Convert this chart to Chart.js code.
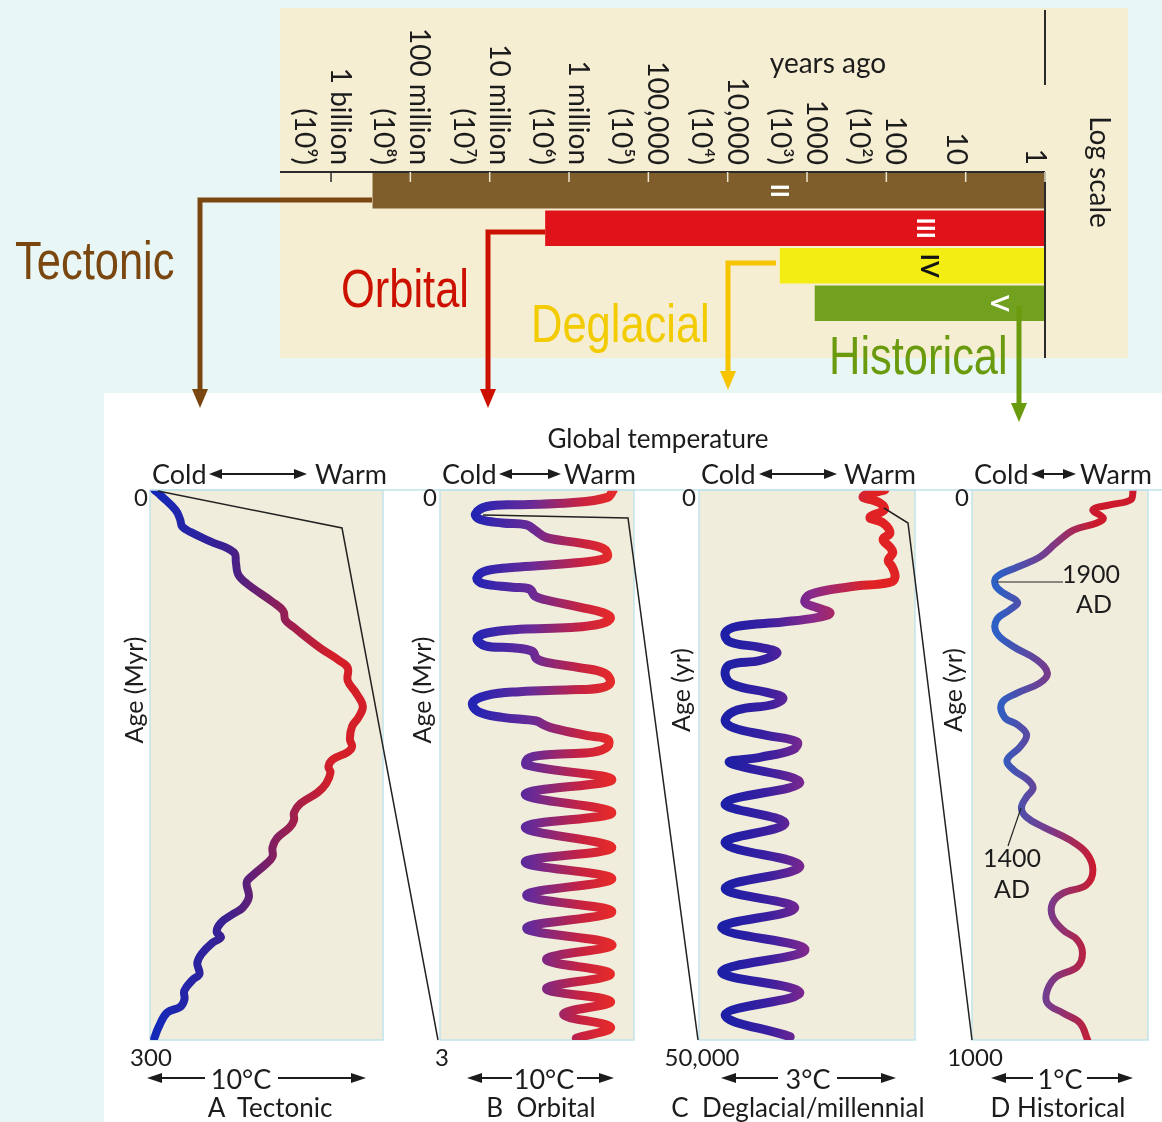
<!DOCTYPE html>
<html>
<head>
<meta charset="utf-8">
<title>Climate change at different time scales</title>
<script src="https://cdn.jsdelivr.net/npm/chart.js@4.4.1/dist/chart.umd.min.js"></script>
<style>
  body { margin: 0; }
  #page { position: relative; width: 1162px; height: 1122px; background: #e8f6f6; overflow: hidden;
          font-family: Lato, "Open Sans", sans-serif; color: #1c1c1c; }
  #page > * { position: absolute; }
  .c, .l, .r, .up, .down { white-space: nowrap; line-height: 1; }
  .c { transform: translate(-50%, -50%); }
  .l { transform: translate(0, -50%); }
  .r { transform: translate(-100%, -50%); }
  .up { transform: translate(-50%, -50%) rotate(-90deg); }
  .down { transform: translate(-50%, -50%) rotate(90deg); }
  .big { font-family: "Liberation Sans", Arial, sans-serif; font-size: 53px; line-height: 1; white-space: nowrap;
         transform: scaleX(0.82); transform-origin: 0 0; }
</style>
</head>
<body>
<div id="page">
  <div style="left:280px;top:8px;width:848px;height:350px;background:#f6eed3"></div>
  <div style="left:104px;top:393px;width:1058px;height:729px;background:#ffffff"></div>

  <canvas id="scale" style="left:280px;top:8px" width="848" height="350"></canvas>
  <canvas id="panelA" style="left:138px;top:478px" width="257" height="574"></canvas>
  <canvas id="panelB" style="left:428px;top:478px" width="218" height="574"></canvas>
  <canvas id="panelC" style="left:687px;top:478px" width="240" height="574"></canvas>
  <canvas id="panelD" style="left:960px;top:478px" width="200" height="574"></canvas>

  <svg style="left:0;top:0" width="1162" height="1122">
    <line x1="150" y1="490" x2="1162" y2="490" stroke="#c2e3ea" stroke-width="1.5"/>
    <!-- colored elbow arrows -->
    <polyline points="372,200 200,200 200,392" fill="none" stroke="#7a4710" stroke-width="5"/>
    <polygon points="192,389 208,389 200,408" fill="#7a4710"/>
    <polyline points="545,232 488,232 488,392" fill="none" stroke="#cc1100" stroke-width="5"/>
    <polygon points="480,389 496,389 488,408" fill="#cc1100"/>
    <polyline points="776,263 728,263 728,374" fill="none" stroke="#f6c500" stroke-width="5"/>
    <polygon points="720,371 736,371 728,390" fill="#f6c500"/>
    <polyline points="1019,306 1019,405" fill="none" stroke="#6a9a0e" stroke-width="5"/>
    <polygon points="1011,403 1027,403 1019,422" fill="#6a9a0e"/>
    <!-- zoom connectors -->
    <g fill="none" stroke="#222" stroke-width="1.5">
      <polyline points="158,491 342,528 438,1040"/>
      <polyline points="483,515 628,518 698,1040"/>
      <polyline points="884,508 908,523 972,1040"/>
      <line x1="997" y1="582" x2="1063" y2="582" stroke-width="1.2"/>
      <line x1="1021" y1="808" x2="1008" y2="846" stroke-width="1.2"/>
    </g>
    <!-- Cold <-> Warm arrows -->
    <g stroke="#1c1c1c" stroke-width="2" fill="#1c1c1c">
      <line x1="214" y1="474" x2="302" y2="474"/>
      <polygon points="209,474 222,469 222,479" stroke="none"/>
      <polygon points="307,474 294,469 294,479" stroke="none"/>
      <line x1="504" y1="474" x2="556" y2="474"/>
      <polygon points="499,474 512,469 512,479" stroke="none"/>
      <polygon points="561,474 548,469 548,479" stroke="none"/>
      <line x1="764" y1="474" x2="832" y2="474"/>
      <polygon points="759,474 772,469 772,479" stroke="none"/>
      <polygon points="837,474 824,469 824,479" stroke="none"/>
      <line x1="1036" y1="474" x2="1071" y2="474"/>
      <polygon points="1031,474 1044,469 1044,479" stroke="none"/>
      <polygon points="1076,474 1063,469 1063,479" stroke="none"/>
      <!-- temperature scale bars -->
      <line x1="152" y1="1078" x2="205" y2="1078"/>
      <polygon points="147,1078 162,1073 162,1083" stroke="none"/>
      <line x1="278" y1="1078" x2="361" y2="1078"/>
      <polygon points="366,1078 351,1073 351,1083" stroke="none"/>
      <line x1="472" y1="1078" x2="512" y2="1078"/>
      <polygon points="467,1078 482,1073 482,1083" stroke="none"/>
      <line x1="577" y1="1078" x2="609" y2="1078"/>
      <polygon points="614,1078 599,1073 599,1083" stroke="none"/>
      <line x1="726" y1="1078" x2="778" y2="1078"/>
      <polygon points="721,1078 736,1073 736,1083" stroke="none"/>
      <line x1="837" y1="1078" x2="891" y2="1078"/>
      <polygon points="896,1078 881,1073 881,1083" stroke="none"/>
      <line x1="996" y1="1078" x2="1033" y2="1078"/>
      <polygon points="991,1078 1006,1073 1006,1083" stroke="none"/>
      <line x1="1087" y1="1078" x2="1128" y2="1078"/>
      <polygon points="1133,1078 1118,1073 1118,1083" stroke="none"/>
    </g>
  </svg>

  <!-- colored time-scale labels -->
  <div class="big" style="left:15px;top:234px;color:#7a4710">Tectonic</div>
  <div class="big" style="left:341px;top:262px;color:#cc1100">Orbital</div>
  <div class="big" style="left:531px;top:297px;color:#f2cb00">Deglacial</div>
  <div class="big" style="left:829px;top:329px;color:#6a9a0e">Historical</div>

  <!-- top panel texts -->
  <div class="c" style="left:828px;top:62px;font-size:28px">years ago</div>
  <div class="down" style="left:1101px;top:172px;font-size:28px">Log scale</div>

  <!-- bottom panel texts -->
  <div class="c" style="left:658px;top:438px;font-size:26px">Global temperature</div>

  <div class="l" style="left:152px;top:473px;font-size:27px">Cold</div>
  <div class="r" style="left:387px;top:473px;font-size:27px">Warm</div>
  <div class="l" style="left:442px;top:473px;font-size:27px">Cold</div>
  <div class="r" style="left:636px;top:473px;font-size:27px">Warm</div>
  <div class="l" style="left:701px;top:473px;font-size:27px">Cold</div>
  <div class="r" style="left:916px;top:473px;font-size:27px">Warm</div>
  <div class="l" style="left:974px;top:473px;font-size:27px">Cold</div>
  <div class="r" style="left:1152px;top:473px;font-size:27px">Warm</div>

  <div class="r" style="left:148px;top:497px;font-size:24px">0</div>
  <div class="r" style="left:437px;top:497px;font-size:24px">0</div>
  <div class="r" style="left:696px;top:497px;font-size:24px">0</div>
  <div class="r" style="left:969px;top:497px;font-size:24px">0</div>

  <div class="c" style="left:151px;top:1057px;font-size:24px">300</div>
  <div class="c" style="left:442px;top:1057px;font-size:24px">3</div>
  <div class="c" style="left:702px;top:1057px;font-size:24px">50,000</div>
  <div class="c" style="left:975px;top:1057px;font-size:24px">1000</div>

  <div class="up" style="left:133px;top:690px;font-size:25px">Age (Myr)</div>
  <div class="up" style="left:421px;top:690px;font-size:25px">Age (Myr)</div>
  <div class="up" style="left:680px;top:690px;font-size:25px">Age (yr)</div>
  <div class="up" style="left:952px;top:690px;font-size:25px">Age (yr)</div>

  <div class="c" style="left:241px;top:1078px;font-size:27px">10°C</div>
  <div class="c" style="left:544px;top:1078px;font-size:27px">10°C</div>
  <div class="c" style="left:808px;top:1078px;font-size:27px">3°C</div>
  <div class="c" style="left:1060px;top:1078px;font-size:27px">1°C</div>

  <div class="c" style="left:270px;top:1107px;font-size:26px">A&nbsp; Tectonic</div>
  <div class="c" style="left:541px;top:1107px;font-size:26px">B&nbsp; Orbital</div>
  <div class="c" style="left:798px;top:1107px;font-size:26px">C&nbsp; Deglacial/millennial</div>
  <div class="c" style="left:1058px;top:1107px;font-size:26px">D Historical</div>

  <div class="l" style="left:1062px;top:573px;font-size:25px">1900</div>
  <div class="c" style="left:1094px;top:603px;font-size:25px">AD</div>
  <div class="c" style="left:1012px;top:857px;font-size:25px">1400</div>
  <div class="c" style="left:1012px;top:888px;font-size:25px">AD</div>
</div>

<script>
// ---- log-scale time spans (years ago) ----
const spanLabels = ['II', 'III', 'IV', 'V'];
const spanStart = [3e8, 2e6, 2200, 800];
const spanEnd = [1, 1, 1, 1];
const numeralAt = [2200, 32, 28, 3.7];
const tickYears = [1e9, 1e8, 1e7, 1e6, 1e5, 1e4, 1e3, 100, 10, 1];
const tickNames = ['1 billion', '100 million', '10 million', '1 million', '100,000', '10,000', '1000', '100', '10', '1'];
const tickPowers = ['(10⁹)', '(10⁸)', '(10⁷)', '(10⁶)', '(10⁵)', '(10⁴)', '(10³)', '(10²)', '', ''];

// ---- A Tectonic: age (Myr), temperature (°C above panel's cold edge) ----
const ageA = [0, 3, 11, 16, 20, 23, 28, 34, 40, 46, 51, 61, 66, 71, 75, 86, 93, 97, 104, 111,
  118, 124, 129, 136, 140, 143, 147, 151, 154, 160, 165, 171, 176, 180, 184, 190, 195, 200, 204, 210,
  214, 222, 228, 231, 236, 241, 244, 247, 253, 258, 264, 267, 273, 278, 282, 285, 293, 299];
const tempA = [0.2, 0.5, 1.2, 1.4, 1.5, 1.9, 2.8, 3.9, 4.0, 4.1, 4.5, 5.7, 6.2, 6.3, 6.7, 7.9, 8.8, 9.2, 9.2, 9.6,
  9.9, 9.7, 9.4, 9.3, 9.4, 9.2, 8.5, 8.3, 8.4, 8.2, 7.8, 7.0, 6.7, 6.7, 6.5, 5.9, 5.7, 5.7, 5.4, 4.8,
  4.5, 4.6, 4.3, 3.9, 3.3, 3.1, 3.3, 2.9, 2.4, 2.2, 2.3, 2.0, 1.6, 1.6, 1.4, 0.8, 0.4, 0.2];

// ---- B Orbital: age (Myr) ----
const ageB = [0, 0.04, 0.07, 0.08, 0.09, 0.13, 0.16, 0.18, 0.19, 0.22, 0.26, 0.29, 0.32, 0.36, 0.38, 0.40, 0.42, 0.44, 0.48, 0.51,
  0.53, 0.54, 0.58, 0.60, 0.64, 0.67, 0.70, 0.73, 0.75, 0.76, 0.78, 0.81, 0.85, 0.86, 0.88, 0.92, 0.94, 0.97, 1.00, 1.05,
  1.08, 1.09, 1.10, 1.12, 1.16, 1.21, 1.24, 1.26, 1.28, 1.30, 1.34, 1.36, 1.40, 1.43, 1.44, 1.46, 1.50, 1.58, 1.66, 1.76,
  1.84, 1.95, 2.03, 2.12, 2.21, 2.30, 2.39, 2.48, 2.56, 2.64, 2.72, 2.79, 2.86, 2.93, 2.99];
const tempB = [12.2, 11.8, 9.2, 5.6, 3.3, 2.5, 2.8, 4.4, 6.1, 6.7, 7.5, 9.9, 11.5, 11.8, 11.3, 9.2, 5.6, 3.3, 2.6, 3.0,
  5.1, 6.3, 6.7, 7.5, 9.9, 11.5, 12.0, 11.3, 9.2, 5.6, 3.3, 2.6, 3.2, 5.1, 6.5, 6.8, 7.5, 9.9, 11.6, 12.0,
  11.3, 9.2, 5.6, 3.3, 2.3, 2.7, 4.4, 6.8, 7.3, 8.0, 10.4, 11.8, 11.8, 10.8, 8.5, 6.3, 6.1, 12.1, 6.0, 12.1,
  6.0, 12.1, 6.0, 12.1, 6.1, 12.1, 6.1, 12.1, 7.5, 12.0, 7.5, 12.0, 8.7, 12.0, 9.6];

// ---- C Deglacial/millennial: age (yr) ----
const ageC = [0, 600, 1200, 1800, 2500, 3000, 3900, 4500, 5200, 5700, 6400, 7000, 7900, 8400, 8800, 9500, 10200, 10700, 11200, 11600,
  12000, 12400, 13000, 13800, 14300, 14800, 15500, 15900, 16800, 17700, 18400, 18900, 19500, 20000, 20900, 21600, 22300, 22900, 23600, 24300,
  24800, 26600, 28500, 30300, 32100, 34200, 36200, 38000, 39800, 41800, 43800, 45700, 47700, 49700];
const tempC = [3.26, 2.88, 3.18, 3.25, 3.00, 3.23, 3.35, 3.23, 3.35, 3.40, 3.32, 3.39, 3.44, 3.35, 2.65, 1.95, 1.86, 2.07, 2.30, 2.07,
  1.47, 0.67, 0.46, 0.54, 1.07, 1.37, 1.07, 0.54, 0.46, 0.60, 1.19, 1.47, 1.30, 0.67, 0.46, 0.60, 1.19, 1.72, 1.65, 1.07,
  0.54, 1.77, 0.46, 1.51, 0.46, 1.77, 0.46, 1.68, 0.40, 1.86, 0.40, 1.77, 0.46, 1.60];

// ---- D Historical: age (yr) ----
const ageD = [0, 18, 27, 36, 51, 60, 73, 96, 122, 140, 158, 173, 187, 204, 218, 236, 260, 285, 309, 333,
  351, 369, 387, 413, 427, 445, 467, 491, 509, 527, 542, 558, 578, 595, 613, 636, 660, 691, 718, 733,
  751, 776, 800, 818, 842, 867, 885, 909, 933, 951, 969, 1000];
const tempD = [1.24, 1.22, 1.06, 0.93, 1.01, 0.96, 0.78, 0.65, 0.52, 0.35, 0.19, 0.18, 0.24, 0.35, 0.29, 0.19, 0.19, 0.32, 0.50, 0.58,
  0.52, 0.35, 0.23, 0.25, 0.35, 0.42, 0.37, 0.27, 0.32, 0.43, 0.47, 0.42, 0.38, 0.42, 0.55, 0.75, 0.88, 0.93, 0.88, 0.70,
  0.62, 0.62, 0.70, 0.81, 0.85, 0.81, 0.65, 0.58, 0.58, 0.70, 0.83, 0.89];

const barColors = ['#7f5e2c', '#e0131b', '#f4ed14', '#71a11f'];
const numeralColors = ['#ffffff', '#ffffff', '#141414', '#ffffff'];

// draws the log axis, its ticks, rotated labels and the numerals in the bars
const scaleDecor = {
  id: 'scaleDecor',
  afterDatasetsDraw(chart) {
    const { ctx, chartArea: a, scales: { x, y } } = chart;
    ctx.save();
    ctx.strokeStyle = '#2a2a2a';
    ctx.lineWidth = 2;
    ctx.beginPath();
    ctx.moveTo(0, a.top); ctx.lineTo(a.right, a.top);
    ctx.moveTo(a.right, a.top); ctx.lineTo(a.right, chart.height);
    ctx.moveTo(a.right, 2); ctx.lineTo(a.right, 77);
    ctx.stroke();

    ctx.font = '28px Lato';
    ctx.textAlign = 'right';
    ctx.textBaseline = 'middle';
    tickYears.forEach((v, i) => {
      const px = x.getPixelForValue(v);
      ctx.strokeStyle = v > spanStart[0] ? '#2a2a2a' : '#efe6cf';
      ctx.lineWidth = 1.5;
      ctx.beginPath(); ctx.moveTo(px, a.top); ctx.lineTo(px, a.top + 10); ctx.stroke();
      ctx.save();
      ctx.translate(px, a.top - 7);
      ctx.rotate(Math.PI / 2);
      ctx.fillStyle = '#1c1c1c';
      if (tickPowers[i]) {
        ctx.fillText(tickNames[i], 0, -9);
        ctx.fillText(tickPowers[i], 0, 27);
      } else {
        ctx.fillText(tickNames[i], 0, 10);
      }
      ctx.restore();
    });

    ctx.font = 'bold 24px Lato';
    ctx.textAlign = 'center';
    spanLabels.forEach((lab, i) => {
      ctx.save();
      ctx.translate(x.getPixelForValue(numeralAt[i]), y.getPixelForValue(i));
      ctx.rotate(Math.PI / 2);
      ctx.fillStyle = numeralColors[i];
      ctx.fillText(lab, 0, 1);
      ctx.restore();
    });
    ctx.restore();
  }
};

new Chart(document.getElementById('scale'), {
  type: 'bar',
  data: {
    labels: spanLabels,
    datasets: [{
      data: spanStart.map((s, i) => [s, spanEnd[i]]),
      backgroundColor: barColors,
      barPercentage: 0.95,
      categoryPercentage: 1
    }]
  },
  options: {
    indexAxis: 'y',
    responsive: false,
    animation: false,
    layout: { padding: { left: 0, right: 83, top: 164, bottom: 36 } },
    plugins: { legend: { display: false }, tooltip: { enabled: false } },
    scales: {
      x: { type: 'logarithmic', reverse: true, min: 1, max: 4.4e9, display: false },
      y: { display: false }
    }
  },
  plugins: [scaleDecor]
});

// beige plot background with thin blue frame
const plotBg = {
  id: 'plotBg',
  beforeDraw(chart) {
    const { ctx, chartArea: a } = chart;
    ctx.save();
    ctx.fillStyle = '#f1eddc';
    ctx.fillRect(a.left, a.top, a.width, a.height);
    ctx.strokeStyle = '#c2e3ea';
    ctx.lineWidth = 1.5;
    ctx.strokeRect(a.left, a.top, a.width, a.height);
    ctx.restore();
  }
};

function panel(id, ages, temps, ageMax, tempMax, width, ramp) {
  new Chart(document.getElementById(id), {
    type: 'scatter',
    data: {
      datasets: [{
        data: ages.map((a, i) => ({ x: temps[i], y: a })),
        showLine: true,
        pointRadius: 0,
        borderWidth: width,
        tension: 0.4,
        borderCapStyle: 'round',
        borderJoinStyle: 'round',
        borderColor(context) {
          const chart = context.chart;
          if (!chart.chartArea) return ramp[0][1];
          const xs = chart.scales.x;
          const t0 = ramp[0][0], t1 = ramp[ramp.length - 1][0];
          const g = chart.ctx.createLinearGradient(xs.getPixelForValue(t0), 0, xs.getPixelForValue(t1), 0);
          ramp.forEach(([t, c]) => g.addColorStop((t - t0) / (t1 - t0), c));
          return g;
        }
      }]
    },
    options: {
      responsive: false,
      animation: false,
      layout: { padding: 12 },
      plugins: { legend: { display: false }, tooltip: { enabled: false } },
      scales: {
        x: { min: 0, max: tempMax, display: false },
        y: { min: 0, max: ageMax, reverse: true, display: false }
      }
    },
    plugins: [plotBg]
  });
}

panel('panelA', ageA, tempA, 300, 10.84, 8,
  [[0.3, '#1428b8'], [3.5, '#3a2090'], [6, '#8c1f5a'], [8.5, '#d41f28']]);
panel('panelB', ageB, tempB, 3, 13.66, 9,
  [[2.5, '#2424b4'], [6.5, '#6a2a96'], [10, '#c82240'], [12, '#e42a2a']]);
panel('panelC', ageC, tempC, 50000, 3.79, 9,
  [[0.5, '#1d1fa6'], [1.2, '#3a1fa0'], [2.0, '#8a2a8a'], [3.0, '#e02224']]);
panel('panelD', ageD, tempD, 1000, 1.354, 7,
  [[0.2, '#2d5fc4'], [0.6, '#7a3a8a'], [0.95, '#cc1a2c']]);
</script>
</body>
</html>
